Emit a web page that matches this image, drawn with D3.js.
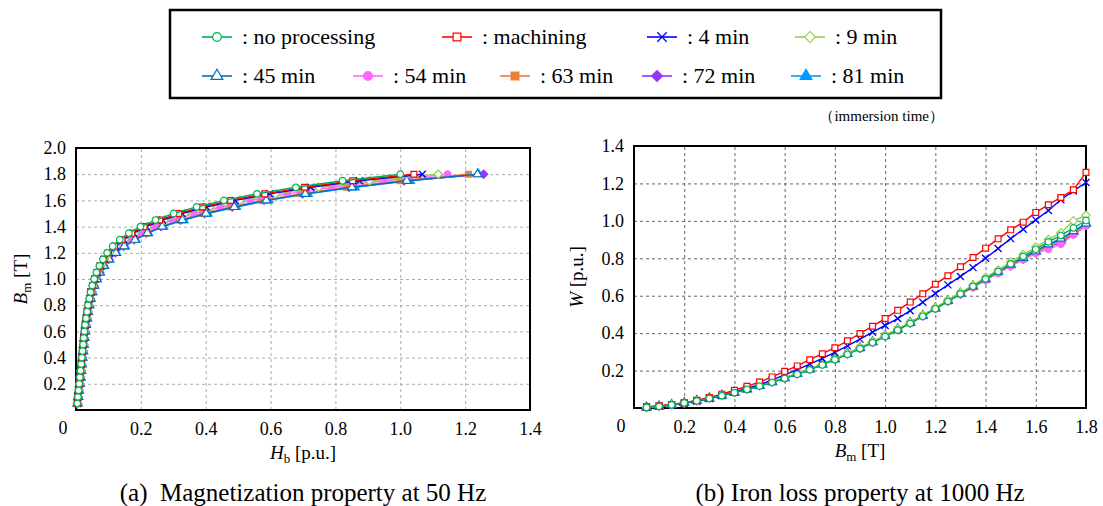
<!DOCTYPE html>
<html>
<head>
<meta charset="utf-8">
<script src="https://cdn.jsdelivr.net/npm/d3@7"></script>
<style>
  body { margin: 0; background: #fff; }
  svg text { font-family: "Liberation Serif", "Times New Roman", "DejaVu Serif", serif; }
</style>
</head>
<body>
<svg id="chart" width="1103" height="506"></svg>
<script>
// ---- data ----
var seriesLabels = [": no processing", ": machining", ": 4 min", ": 9 min",
  ": 45 min", ": 54 min", ": 63 min", ": 72 min", ": 81 min"];

// flux density levels used for both plots [T]
var bm = [0.05, 0.10, 0.15, 0.20, 0.25, 0.30, 0.35, 0.40, 0.45, 0.50, 0.55, 0.60,
  0.65, 0.70, 0.75, 0.80, 0.85, 0.90, 0.95, 1.00, 1.05, 1.10, 1.15, 1.20,
  1.25, 1.30, 1.35, 1.40, 1.45, 1.50, 1.55, 1.60, 1.65, 1.70, 1.75, 1.80];

// (a) Hb [p.u.] at 50 Hz
var hbNoProc  = [.004,.006,.008,.010,.012,.014,.016,.018,.020,.022,.024,.026,.028,.031,.034,.037,.041,.045,.050,.056,.063,.072,.083,.096,.113,.135,.163,.199,.245,.301,.372,.456,.558,.678,.822,1.000];
var hbMach    = [.004,.006,.008,.010,.012,.014,.016,.018,.020,.022,.024,.026,.028,.031,.034,.038,.042,.046,.051,.057,.065,.074,.086,.100,.119,.142,.172,.210,.258,.317,.390,.477,.582,.705,.853,1.042];
var hb4min    = [.004,.006,.008,.010,.012,.014,.016,.018,.020,.022,.024,.026,.029,.032,.035,.038,.042,.046,.052,.058,.066,.076,.088,.103,.123,.147,.178,.217,.267,.327,.402,.491,.597,.724,.874,1.068];
var hb9min    = [.004,.006,.008,.011,.013,.015,.017,.019,.021,.023,.025,.027,.029,.032,.035,.038,.042,.047,.052,.058,.066,.077,.089,.104,.124,.150,.181,.220,.272,.335,.412,.505,.616,.748,.905,1.117];
var hb45min   = [.005,.007,.009,.012,.014,.016,.018,.020,.022,.024,.026,.028,.031,.034,.037,.041,.045,.050,.056,.064,.073,.086,.102,.123,.149,.182,.220,.266,.328,.401,.488,.587,.707,.851,1.020,1.238];
var hb54min   = [.005,.006,.009,.011,.013,.015,.017,.019,.021,.023,.025,.027,.030,.033,.036,.039,.043,.048,.054,.061,.070,.081,.095,.113,.136,.164,.199,.241,.297,.364,.445,.539,.652,.787,.947,1.146];
var hb63min   = [.005,.007,.009,.012,.014,.016,.018,.020,.022,.024,.026,.028,.031,.034,.037,.040,.044,.049,.055,.063,.072,.085,.100,.120,.145,.177,.214,.259,.319,.390,.476,.573,.691,.833,.999,1.210];
var hb72min   = [.005,.007,.009,.012,.014,.016,.018,.020,.022,.024,.026,.028,.031,.034,.037,.040,.044,.049,.055,.063,.073,.085,.101,.121,.147,.179,.217,.262,.323,.396,.482,.580,.699,.842,1.012,1.257];
var hb81min   = [.005,.007,.009,.012,.014,.016,.018,.020,.022,.024,.026,.028,.031,.034,.037,.041,.045,.050,.056,.064,.074,.087,.103,.124,.151,.184,.223,.269,.332,.406,.494,.594,.715,.860,1.030,1.241];

// (b) W [p.u.] at 1000 Hz
var wNoProc = [.003,.009,.017,.027,.038,.051,.066,.082,.099,.117,.137,.158,.180,.204,.230,.258,.287,.317,.349,.382,.416,.452,.490,.530,.570,.610,.650,.690,.730,.770,.810,.848,.888,.922,.962,1.002];
var wMach   = [.006,.012,.019,.028,.041,.056,.074,.095,.116,.139,.166,.196,.225,.258,.290,.322,.359,.398,.437,.478,.522,.566,.610,.661,.707,.755,.804,.854,.904,.952,.993,1.045,1.086,1.125,1.166,1.259];
var w4min   = [.005,.010,.016,.025,.036,.050,.066,.085,.104,.125,.150,.177,.205,.235,.265,.297,.332,.368,.405,.441,.478,.520,.565,.612,.658,.703,.750,.800,.852,.905,.955,1.005,1.055,1.113,1.160,1.205];
var w9min   = [.003,.009,.017,.027,.039,.052,.067,.084,.101,.120,.140,.162,.185,.209,.235,.263,.292,.323,.355,.388,.423,.459,.497,.537,.577,.617,.657,.698,.738,.780,.821,.860,.900,.937,1.000,1.030];
var w45min  = [.003,.009,.017,.027,.039,.052,.067,.083,.100,.119,.139,.160,.183,.207,.233,.261,.290,.320,.352,.385,.420,.455,.493,.532,.572,.611,.650,.689,.727,.766,.803,.838,.875,.905,.945,.985];
var w54min  = [.003,.009,.017,.027,.039,.052,.067,.083,.100,.119,.139,.160,.183,.207,.233,.260,.289,.319,.351,.384,.418,.453,.491,.530,.569,.607,.645,.683,.720,.757,.792,.826,.848,.875,.925,.972];
var w63min  = [.003,.009,.017,.027,.039,.052,.067,.083,.100,.119,.139,.160,.183,.207,.233,.260,.289,.320,.352,.385,.419,.455,.492,.531,.570,.609,.647,.686,.723,.761,.797,.831,.866,.888,.935,.978];
var w72min  = [.003,.009,.017,.027,.039,.052,.067,.083,.100,.119,.139,.160,.183,.207,.233,.260,.289,.319,.351,.384,.418,.454,.492,.531,.570,.608,.646,.684,.722,.759,.795,.829,.863,.882,.930,.975];
var w81min  = [.003,.009,.017,.027,.039,.052,.067,.084,.101,.120,.140,.161,.184,.208,.234,.262,.291,.321,.353,.386,.421,.457,.494,.533,.572,.611,.650,.688,.726,.764,.800,.834,.870,.895,.940,.985];

// tick labels
var hbTicks   = [0.2, 0.4, 0.6, 0.8, 1.0, 1.2, 1.4];
var bmTicksA  = [0.2, 0.4, 0.6, 0.8, 1.0, 1.2, 1.4, 1.6, 1.8, 2.0];
var bmTicksB  = [0.2, 0.4, 0.6, 0.8, 1.0, 1.2, 1.4, 1.6, 1.8];
var wTicks    = [0.2, 0.4, 0.6, 0.8, 1.0, 1.2, 1.4];

var hbSeries = [hbNoProc, hbMach, hb4min, hb9min, hb45min, hb54min, hb63min, hb72min, hb81min];
var wSeries  = [wNoProc, wMach, w4min, w9min, w45min, w54min, w63min, w72min, w81min];

// ---- styles ----
var styles = [
  {color: "#00b050", shape: "circle",   open: true},
  {color: "#ff0000", shape: "square",   open: true},
  {color: "#0000ff", shape: "x"},
  {color: "#92d050", shape: "diamond",  open: true},
  {color: "#0070c0", shape: "triangle", open: true},
  {color: "#ff66ff", shape: "circle"},
  {color: "#ed7d31", shape: "square"},
  {color: "#9933ff", shape: "diamond"},
  {color: "#0099ff", shape: "triangle"}
];

var svg = d3.select("#chart");

function symbolPath(shape, size) {
  var t = {circle: d3.symbolCircle, square: d3.symbolSquare, diamond: d3.symbolSquare,
           triangle: d3.symbolTriangle, x: d3.symbolTimes || d3.symbolX || d3.symbolCross};
  return d3.symbol().type(t[shape]).size(size)();
}

function drawMarker(g, st, cx, cy, size) {
  var p = g.append("path")
    .attr("d", symbolPath(st.shape, size))
    .attr("transform", "translate(" + [cx, cy] + ")" + (st.shape == "diamond" ? " rotate(45)" : ""))
    .attr("stroke", st.color)
    .attr("stroke-width", st.shape == "x" ? 1.3 : 1.2);
  if (st.shape == "x") p.attr("fill", "none");
  else p.attr("fill", st.open ? "#fff" : st.color);
}

function panel(opt) {
  var x = d3.scaleLinear().domain(opt.xDomain).range([opt.left, opt.right]);
  var y = d3.scaleLinear().domain(opt.yDomain).range([opt.bottom, opt.top]);
  var g = svg.append("g");

  // grid
  g.append("g")
    .attr("transform", "translate(0," + opt.bottom + ")")
    .call(d3.axisBottom(x).tickValues(opt.xTicks).tickSize(-(opt.bottom - opt.top)).tickFormat(""))
    .call(function (s) { s.select(".domain").remove(); })
    .selectAll("line").attr("stroke", opt.gridColor).attr("stroke-dasharray", "3,3");
  g.append("g")
    .attr("transform", "translate(" + opt.left + ",0)")
    .call(d3.axisLeft(y).tickValues(opt.yTicks).tickSize(-(opt.right - opt.left)).tickFormat(""))
    .call(function (s) { s.select(".domain").remove(); })
    .selectAll("line").attr("stroke", opt.gridColor).attr("stroke-dasharray", "3,3");

  // frame
  g.append("rect")
    .attr("x", opt.left).attr("y", opt.top)
    .attr("width", opt.right - opt.left).attr("height", opt.bottom - opt.top)
    .attr("fill", "none").attr("stroke", "#000").attr("stroke-width", 2);

  // tick labels
  var xa = g.append("g")
    .attr("transform", "translate(0," + opt.bottom + ")")
    .call(d3.axisBottom(x).tickValues(opt.xTicks).tickSize(0).tickPadding(12).tickFormat(d3.format(".1f")));
  xa.attr("font-size", 18);
  xa.select(".domain").remove();
  xa.selectAll("text").attr("fill", "#000");
  var ya = g.append("g")
    .attr("transform", "translate(" + opt.left + ",0)")
    .call(d3.axisLeft(y).tickValues(opt.yTicks).tickSize(0).tickPadding(10).tickFormat(d3.format(".1f")));
  ya.attr("font-size", 18);
  ya.select(".domain").remove();
  ya.selectAll("text").attr("fill", "#000");

  g.append("text").attr("x", x(0) - 13).attr("y", opt.bottom + 24)
    .attr("text-anchor", "middle").attr("font-size", 18).text("0");

  // series (first legend entry drawn last, on top)
  var line = d3.line().x(function (d) { return x(d[0]); }).y(function (d) { return y(d[1]); });
  for (var i = opt.series.length - 1; i >= 0; i--) {
    var pts = opt.series[i].map(function (v, k) { return opt.pair(v, k); });
    var st = styles[i];
    g.append("path").attr("d", line(pts))
      .attr("fill", "none").attr("stroke", st.color).attr("stroke-width", 1.4);
    pts.forEach(function (p) { drawMarker(g, st, x(p[0]), y(p[1]), 34); });
  }

  // axis titles
  var cx = (opt.left + opt.right) / 2;
  var xt = g.append("text").attr("x", cx).attr("y", opt.bottom + 49)
    .attr("text-anchor", "middle").attr("font-size", 19);
  xt.append("tspan").attr("font-style", "italic").text(opt.xTitle[0]);
  xt.append("tspan").attr("font-size", 13).attr("dy", 4).text(opt.xTitle[1]);
  xt.append("tspan").attr("dy", -4).text(" " + opt.xTitle[2]);

  var cy = (opt.top + opt.bottom) / 2;
  var yt = g.append("text")
    .attr("transform", "translate(" + opt.yTitleX + "," + cy + ") rotate(-90)")
    .attr("text-anchor", "middle").attr("font-size", 19);
  yt.append("tspan").attr("font-style", "italic").text(opt.yTitle[0]);
  if (opt.yTitle[1]) yt.append("tspan").attr("font-size", 13).attr("dy", 4).text(opt.yTitle[1]);
  yt.append("tspan").attr("dy", opt.yTitle[1] ? -4 : 0).text(" " + opt.yTitle[2]);

  g.append("text").attr("x", cx).attr("y", 501)
    .attr("text-anchor", "middle").attr("font-size", 25)
    .style("white-space", "pre").text(opt.caption);
}

panel({
  left: 76, right: 530, top: 148, bottom: 410,
  xDomain: [0, 1.4], yDomain: [0, 2.0],
  xTicks: hbTicks, yTicks: bmTicksA, gridColor: "#aaa",
  series: hbSeries, pair: function (v, k) { return [v, bm[k]]; },
  xTitle: ["H", "b", "[p.u.]"], yTitle: ["B", "m", "[T]"], yTitleX: 27,
  caption: "(a)  Magnetization property at 50 Hz"
});

panel({
  left: 634, right: 1086, top: 146, bottom: 408,
  xDomain: [0, 1.8], yDomain: [0, 1.4],
  xTicks: bmTicksB, yTicks: wTicks, gridColor: "#666",
  series: wSeries, pair: function (v, k) { return [bm[k], v]; },
  xTitle: ["B", "m", "[T]"], yTitle: ["W", "", "[p.u.]"], yTitleX: 583,
  caption: "(b) Iron loss property at 1000 Hz"
});

// ---- legend ----
var legX = [217, 457, 662, 810, 217, 368, 515, 657, 806];
var legY = [37, 37, 37, 37, 76, 76, 76, 76, 76];
var leg = svg.append("g");
leg.append("rect").attr("x", 170).attr("y", 10).attr("width", 771).attr("height", 88)
  .attr("fill", "none").attr("stroke", "#000").attr("stroke-width", 2.5);
seriesLabels.forEach(function (lab, i) {
  var st = styles[i];
  leg.append("line").attr("x1", legX[i] - 15).attr("x2", legX[i] + 15)
    .attr("y1", legY[i]).attr("y2", legY[i]).attr("stroke", st.color).attr("stroke-width", 1.6);
  drawMarker(leg, st, legX[i], legY[i], 60);
  leg.append("text").attr("x", legX[i] + 25).attr("y", legY[i] + 7)
    .attr("font-size", 22).text(lab);
});
svg.append("text").attr("x", 944).attr("y", 121).attr("text-anchor", "end")
  .attr("font-size", 15)
  .text("（immersion time）");
</script>
</body>
</html>
